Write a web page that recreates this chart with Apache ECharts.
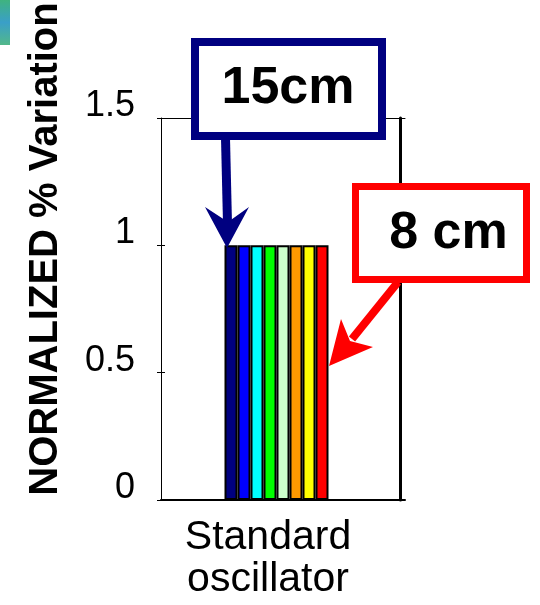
<!DOCTYPE html>
<html>
<head>
<meta charset="utf-8">
<script src="https://cdn.jsdelivr.net/npm/echarts@6/dist/echarts.min.js"></script>
<style>
  html, body { margin: 0; padding: 0; background: #ffffff; }
  #chart { width: 540px; height: 605px; }
</style>
</head>
<body>
<div id="chart"></div>
<script>
// Oscillator category on the x axis
const categories = ['Standard\noscillator'];

// One bar per depth, deepest first
const depthNames = ['15 cm', '14 cm', '13 cm', '12 cm', '11 cm', '10 cm', '9 cm', '8 cm'];
const depthColors = ['#000080', '#0000FF', '#00FFFF', '#00FF00', '#CCFFCC', '#FF9900', '#FFFF00', '#FF0000'];

// Normalized variation for each depth
const normalizedValues = [1, 1, 1, 1, 1, 1, 1, 1];

// Value axis ticks
const yTicks = [0, 0.5, 1, 1.5];

const FONT = '"Liberation Sans", Arial, sans-serif';

const chart = echarts.init(document.getElementById('chart'), null, { renderer: 'canvas' });

const series = depthNames.map((name, i) => ({
  name: name,
  type: 'bar',
  xAxisIndex: 0,
  yAxisIndex: 0,
  data: [normalizedValues[i]],
  barWidth: 13,
  barGap: '0%',
  itemStyle: { color: depthColors[i], borderColor: '#000000', borderWidth: 2 },
  emphasis: { disabled: true },
  animation: false
}));

// empty slot after the last depth, keeps the bar group left of the band centre
series.push({
  name: 'gap',
  type: 'bar',
  xAxisIndex: 0,
  yAxisIndex: 0,
  data: [null],
  barWidth: 13,
  barGap: '0%',
  silent: true
});

const option = {
  animation: false,
  backgroundColor: '#ffffff',
  grid: {
    left: 161, right: 135, top: 118, bottom: 105,
    containLabel: false,
    outerBoundsMode: 'none'
  },
  xAxis: [
    {
      type: 'category',
      position: 'bottom',
      data: categories,
      axisLine: { show: true, onZero: false, lineStyle: { color: '#000000', width: 2 } },
      axisTick: { show: false },
      axisLabel: {
        color: '#000000',
        fontFamily: FONT,
        fontSize: 41,
        lineHeight: 42,
        margin: 17,
        padding: [0, 30, 0, 0]
      },
      splitLine: { show: false }
    },
    {
      type: 'category',
      position: 'top',
      data: categories,
      axisLine: { show: true, onZero: false, lineStyle: { color: '#000000', width: 1 } },
      axisTick: { show: false },
      axisLabel: { show: false },
      splitLine: { show: false }
    }
  ],
  yAxis: [
    {
      type: 'value',
      position: 'left',
      min: yTicks[0],
      max: yTicks[yTicks.length - 1],
      interval: yTicks[1] - yTicks[0],
      name: 'NORMALIZED % Variation',
      nameLocation: 'middle',
      nameRotate: 90,
      nameGap: 95,
      nameTextStyle: {
        color: '#000000',
        fontFamily: FONT,
        fontSize: 40,
        fontWeight: 'bold',
        padding: [0, 0, 0, 120]
      },
      axisLine: { show: true, onZero: false, lineStyle: { color: '#000000', width: 1 } },
      axisTick: { show: true, inside: false, length: 4, lineStyle: { color: '#000000' } },
      axisLabel: {
        color: '#000000',
        fontFamily: FONT,
        fontSize: 36,
        margin: 26,
        verticalAlign: 'bottom',
        lineHeight: 24
      },
      splitLine: { show: false }
    },
    {
      type: 'value',
      position: 'left',
      min: yTicks[0],
      max: yTicks[yTicks.length - 1],
      interval: yTicks[1] - yTicks[0],
      axisLine: { show: false, onZero: false },
      axisTick: { show: true, inside: true, length: 4, lineStyle: { color: '#000000' } },
      axisLabel: { show: false },
      splitLine: { show: false }
    },
    {
      type: 'value',
      position: 'right',
      offset: -5,
      min: yTicks[0],
      max: yTicks[yTicks.length - 1],
      interval: yTicks[1] - yTicks[0],
      axisLine: { show: true, onZero: false, lineStyle: { color: '#000000', width: 3 } },
      axisTick: { show: false },
      axisLabel: { show: false },
      splitLine: { show: false }
    }
  ],
  series: series,
  graphic: [
    // small teal swatch in the top-left corner
    {
      type: 'rect', z: 100,
      shape: { x: 0, y: 0, width: 10, height: 45 },
      style: {
        fill: new echarts.graphic.LinearGradient(0, 0, 0, 1, [
          { offset: 0, color: '#3fb37f' },
          { offset: 0.5, color: '#3a9fc8' },
          { offset: 1, color: '#52b88a' }
        ])
      }
    },
    // 15cm callout arrow
    {
      type: 'line', z: 100,
      shape: { x1: 225.5, y1: 138, x2: 227.5, y2: 224 },
      style: { stroke: '#000080', lineWidth: 9 }
    },
    {
      type: 'polygon', z: 100,
      shape: { points: [[205, 207], [227, 248], [249, 207], [228, 222]] },
      style: { fill: '#000080' }
    },
    {
      type: 'rect', z: 101,
      shape: { x: 195, y: 42, width: 187, height: 94 },
      style: { fill: '#ffffff', stroke: '#000080', lineWidth: 8 }
    },
    {
      type: 'text', z: 102,
      style: {
        text: '15cm', x: 288, y: 89,
        font: 'bold 52px ' + FONT,
        fill: '#000000', align: 'center', verticalAlign: 'middle'
      }
    },
    // 8 cm callout arrow
    {
      type: 'line', z: 100,
      shape: { x1: 398, y1: 282, x2: 352, y2: 339 },
      style: { stroke: '#FF0000', lineWidth: 8 }
    },
    {
      type: 'polygon', z: 100,
      shape: { points: [[341, 319], [329, 366], [373, 347], [350, 341]] },
      style: { fill: '#FF0000' }
    },
    {
      type: 'rect', z: 101,
      shape: { x: 355.5, y: 186.5, width: 171, height: 93 },
      style: { fill: '#ffffff', stroke: '#FF0000', lineWidth: 7 }
    },
    {
      type: 'text', z: 102,
      style: {
        text: '8 cm', x: 448.5, y: 234,
        font: 'bold 52px ' + FONT,
        fill: '#000000', align: 'center', verticalAlign: 'middle'
      }
    }
  ]
};

chart.setOption(option);
</script>
</body>
</html>
